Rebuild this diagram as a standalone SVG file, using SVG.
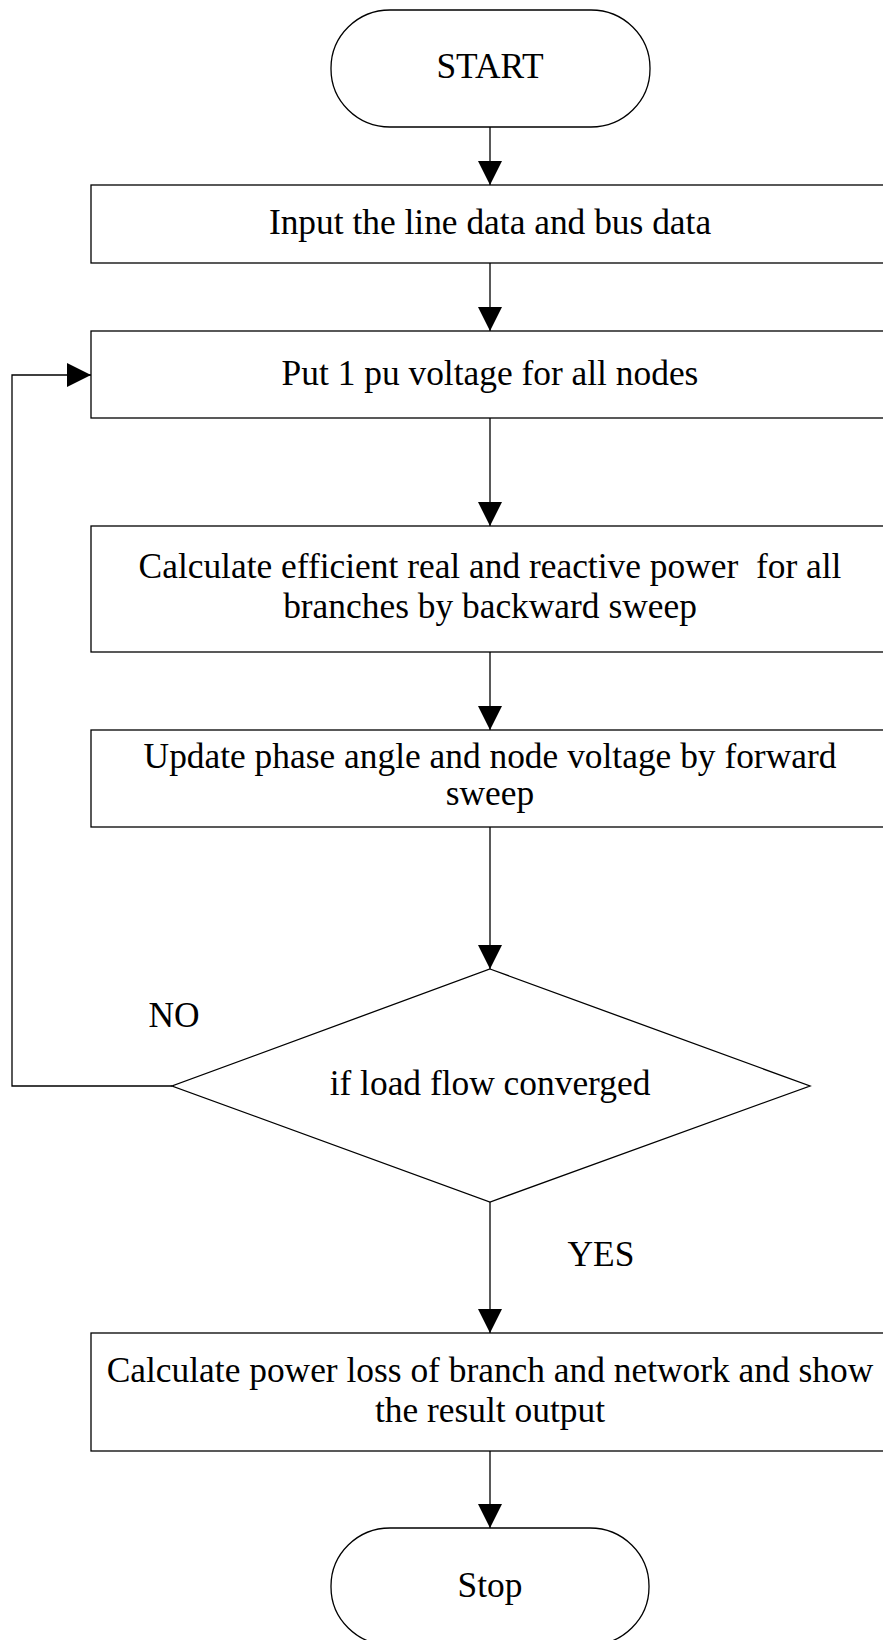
<svg xmlns="http://www.w3.org/2000/svg" width="883" height="1640" viewBox="0 0 883 1640">
<style>
.shape{fill:#fff;stroke:#000;stroke-width:1.3}
.conn{fill:none;stroke:#000;stroke-width:1.3}
text{font-family:"Liberation Serif","Times New Roman",serif;font-size:35.4px;fill:#000;text-anchor:middle;white-space:pre}
</style>
<defs>
<marker id="arr" markerWidth="24" markerHeight="24" refX="24" refY="12" orient="auto" markerUnits="userSpaceOnUse">
<path d="M0,0 L24,12 L0,24 Z" fill="#000"/>
</marker>
</defs>
<rect width="883" height="1640" fill="#fff"/>
<g id="connectors">
<line class="conn" x1="490" y1="127" x2="490" y2="185" marker-end="url(#arr)"/>
<line class="conn" x1="490" y1="263" x2="490" y2="331" marker-end="url(#arr)"/>
<line class="conn" x1="490" y1="418" x2="490" y2="526" marker-end="url(#arr)"/>
<line class="conn" x1="490" y1="652" x2="490" y2="730" marker-end="url(#arr)"/>
<line class="conn" x1="490" y1="827" x2="490" y2="969" marker-end="url(#arr)"/>
<polyline class="conn" points="172,1086 12,1086 12,375 91,375" marker-end="url(#arr)"/>
<line class="conn" x1="490" y1="1202" x2="490" y2="1333" marker-end="url(#arr)"/>
<line class="conn" x1="490" y1="1451" x2="490" y2="1528" marker-end="url(#arr)"/>
<text x="174" y="1027">NO</text>
<text x="601" y="1266">YES</text>
</g>
<g id="start">
<rect class="shape" x="331" y="10" width="319" height="117" rx="59" ry="58"/>
<text x="490" y="78">START</text>
</g>
<g id="input">
<rect class="shape" x="91" y="185" width="810" height="78"/>
<text x="490" y="234">Input the line data and bus data</text>
</g>
<g id="init">
<rect class="shape" x="91" y="331" width="810" height="87"/>
<text x="490" y="385">Put 1 pu voltage for all nodes</text>
</g>
<g id="backward">
<rect class="shape" x="91" y="526" width="810" height="126"/>
<text x="490" y="578" xml:space="preserve">Calculate efficient real and reactive power  for all</text>
<text x="490" y="618">branches by backward sweep</text>
</g>
<g id="forward">
<rect class="shape" x="91" y="730" width="810" height="97"/>
<text x="490" y="768">Update phase angle and node voltage by forward</text>
<text x="490" y="805">sweep</text>
</g>
<g id="decision">
<polygon class="shape" points="490,969 810,1086 490,1202 172,1086"/>
<text x="490" y="1095">if load flow converged</text>
</g>
<g id="output">
<rect class="shape" x="91" y="1333" width="810" height="118"/>
<text x="490" y="1382">Calculate power loss of branch and network and show</text>
<text x="490" y="1422">the result output</text>
</g>
<g id="stop">
<rect class="shape" x="331" y="1528" width="318" height="117" rx="59" ry="58"/>
<text x="490" y="1597">Stop</text>
</g>
</svg>
